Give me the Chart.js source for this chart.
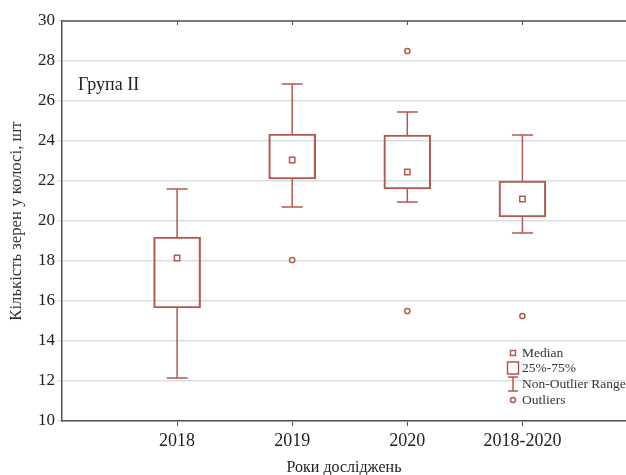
<!DOCTYPE html>
<html lang="uk">
<head>
<meta charset="utf-8">
<title>Кількість зерен у колосі — Група II</title>
<script src="https://cdn.jsdelivr.net/npm/chart.js@4.4.1/dist/chart.umd.min.js"></script>
<style>
  html, body { margin: 0; padding: 0; background: #fff; }
  #wrap { width: 626px; height: 475px; }
</style>
</head>
<body>
<div id="wrap"><canvas id="c" width="626" height="475"></canvas></div>
<script>
// Years of the study (x axis)
const categories = ['2018', '2019', '2020', '2018-2020'];

// Box-plot statistics per year
const whiskerLow  = [12.15, 20.70, 20.95, 19.40];
const q1          = [15.65, 22.10, 21.60, 20.20];
const median      = [18.15, 23.05, 22.45, 21.10];
const q3          = [19.20, 24.35, 24.30, 22.00];
const whiskerHigh = [21.60, 26.85, 25.45, 24.30];
const outliers    = [[], [18.05], [28.50, 15.50], [15.25]];

// Axis settings
const yMin = 10, yMax = 30, yStep = 2;

const groupLabel = 'Група II';
const legendItems = ['Median', '25%-75%', 'Non-Outlier Range', 'Outliers'];

const BOX = '#b35a50';
const TEXT = '#222';
const SERIF = '"Liberation Serif", "DejaVu Serif", serif';

// Whiskers, frame, group caption and legend drawn with the chart's scales
const boxExtras = {
  id: 'boxExtras',
  beforeDatasetsDraw(chart) {
    const {ctx, scales: {x, y}} = chart;
    ctx.save();
    ctx.strokeStyle = BOX;
    ctx.lineWidth = 1.5;
    const cap = 10.5;
    categories.forEach((c, i) => {
      const px = x.getPixelForValue(i + 1);
      const segs = [[q3[i], whiskerHigh[i]], [q1[i], whiskerLow[i]]];
      segs.forEach(([from, to]) => {
        const y0 = y.getPixelForValue(from), y1 = y.getPixelForValue(to);
        ctx.beginPath();
        ctx.moveTo(px, y0); ctx.lineTo(px, y1);
        ctx.moveTo(px - cap, y1); ctx.lineTo(px + cap, y1);
        ctx.stroke();
      });
    });
    ctx.restore();
  },
  afterDraw(chart) {
    const {ctx, scales: {x}, chartArea: a} = chart;
    ctx.save();
    // top frame line with small inward ticks
    ctx.strokeStyle = '#555';
    ctx.lineWidth = 1.5;
    ctx.beginPath();
    ctx.moveTo(a.left, a.top); ctx.lineTo(a.right, a.top);
    ctx.stroke();
    ctx.lineWidth = 1;
    categories.forEach((c, i) => {
      const px = Math.round(x.getPixelForValue(i + 1)) + 0.5;
      ctx.beginPath();
      ctx.moveTo(px, a.top); ctx.lineTo(px, a.top + 4);
      ctx.stroke();
    });

    // group caption
    ctx.fillStyle = TEXT;
    ctx.font = '18px ' + SERIF;
    ctx.textAlign = 'left';
    ctx.textBaseline = 'middle';
    ctx.fillText(groupLabel, 78, 85);

    // legend
    const mx = 513, tx = 522;
    const rows = [353, 368, 384, 400];
    ctx.strokeStyle = BOX;
    ctx.lineWidth = 1.5;
    ctx.fillStyle = '#fff';
    // median marker
    ctx.beginPath(); ctx.rect(mx - 2.5, rows[0] - 2.5, 5, 5); ctx.fill(); ctx.stroke();
    // quartile box
    ctx.beginPath(); ctx.rect(mx - 5.5, rows[1] - 6, 11, 12); ctx.stroke();
    // whisker range
    ctx.beginPath();
    ctx.moveTo(mx, rows[2] - 7); ctx.lineTo(mx, rows[2] + 7);
    ctx.moveTo(mx - 5, rows[2] - 7); ctx.lineTo(mx + 5, rows[2] - 7);
    ctx.moveTo(mx - 5, rows[2] + 7); ctx.lineTo(mx + 5, rows[2] + 7);
    ctx.stroke();
    // outlier marker
    ctx.beginPath(); ctx.arc(mx, rows[3], 2.5, 0, Math.PI * 2); ctx.fill(); ctx.stroke();

    ctx.fillStyle = '#333';
    ctx.font = '13.5px ' + SERIF;
    legendItems.forEach((t, i) => ctx.fillText(t, tx, rows[i]));
    ctx.restore();
  }
};

new Chart(document.getElementById('c'), {
  type: 'bar',
  data: {
    datasets: [
      {
        type: 'bar',
        label: '25%-75%',
        data: categories.map((c, i) => ({x: i + 1, y: [q1[i], q3[i]]})),
        backgroundColor: 'rgba(255,255,255,0)',
        borderColor: BOX,
        borderWidth: 1.5,
        borderSkipped: false,
        barThickness: 47,
        order: 2
      },
      {
        type: 'scatter',
        label: 'Median',
        data: categories.map((c, i) => ({x: i + 1, y: median[i]})),
        pointStyle: 'rect',
        pointRadius: 3.8,
        borderColor: BOX,
        backgroundColor: '#fff',
        borderWidth: 1.5,
        order: 1
      },
      {
        type: 'scatter',
        label: 'Outliers',
        data: outliers.flatMap((arr, i) => arr.map(v => ({x: i + 1, y: v}))),
        pointStyle: 'circle',
        pointRadius: 2.6,
        borderColor: BOX,
        backgroundColor: '#fff',
        borderWidth: 1.5,
        order: 1
      }
    ]
  },
  options: {
    responsive: false,
    animation: false,
    devicePixelRatio: 1,
    layout: {autoPadding: false, padding: {top: 21, right: 0, left: 0, bottom: 0}},
    plugins: {legend: {display: false}, tooltip: {enabled: false}},
    scales: {
      x: {
        type: 'linear',
        min: 0,
        max: 4.9,
        offset: false,
        afterBuildTicks: s => { s.ticks = categories.map((c, i) => ({value: i + 1})); },
        afterFit: s => { s.height = 54; s.paddingRight = 0; s.paddingLeft = 0; },
        ticks: {
          callback: v => categories[v - 1] ?? '',
          font: {family: SERIF, size: 18},
          color: TEXT,
          padding: 4,
          maxRotation: 0,
          autoSkip: false
        },
        grid: {offset: false, drawOnChartArea: false, drawTicks: true, tickLength: 5, color: '#555', lineWidth: 1},
        border: {color: '#555', width: 1.5},
        title: {
          display: true,
          text: 'Роки досліджень',
          font: {family: SERIF, size: 16, lineHeight: 1},
          color: TEXT,
          padding: {top: 0, bottom: -1}
        }
      },
      y: {
        min: yMin,
        max: yMax,
        afterFit: s => { s.width = 62; },
        ticks: {stepSize: yStep, font: {family: SERIF, size: 17}, color: TEXT, padding: 3},
        grid: {color: '#d9dde0', lineWidth: 1.5, tickLength: 4, drawTicks: true},
        border: {color: '#555', width: 1.5},
        title: {
          display: true,
          text: 'Кількість зерен у колосі, шт',
          font: {family: SERIF, size: 16.7, lineHeight: 1.2},
          color: '#333',
          padding: {top: 7, bottom: 0}
        }
      }
    }
  },
  plugins: [boxExtras]
});
</script>
</body>
</html>
